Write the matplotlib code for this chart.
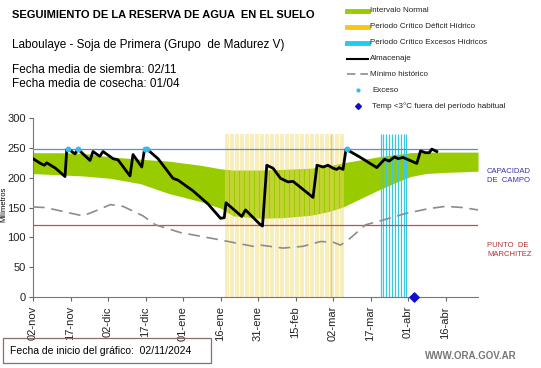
import numpy as np
import matplotlib
matplotlib.use("Agg")
import matplotlib.pyplot as plt

plt.rcParams['font.family'] = ['Liberation Sans', 'DejaVu Sans']

# dias contados desde el 02/11/2024
tick_days = [0, 15, 30, 45, 60, 75, 90, 105, 120, 135, 150, 165]
tick_labels = ['02-nov', '17-nov', '02-dic', '17-dic', '01-ene', '16-ene',
               '31-ene', '15-feb', '02-mar', '17-mar', '01-abr', '16-abr']

# intervalo normal (banda verde)
band_days = [0, 10, 20, 31, 43, 54, 67, 75, 80, 91, 100, 111, 118, 124, 131,
             138, 145, 151, 157, 165, 172, 178]
band_upper = [242, 242, 241, 235, 231, 228, 221, 215, 213, 213, 214, 216, 220,
              225, 230, 235, 239, 242, 243, 243, 243, 243]
band_lower = [207, 205, 203, 199, 190, 174, 160, 149, 136, 132, 133, 137, 143,
              151, 165, 179, 192, 202, 207, 209, 210, 211]

# minimo historico
min_days = [0, 5, 20, 26, 31, 36, 44, 49, 59, 72, 88, 91, 100, 108, 115, 120,
            123, 127, 133, 140, 149, 158, 165, 172, 178]
min_vals = [151, 150, 136, 146, 155, 152, 136, 121, 108, 98, 85, 87, 82, 85,
            93, 92, 87, 99, 121, 129, 140, 148, 152, 150, 146]

# almacenaje
alm_days = [0, 3, 4.5, 5.5, 9, 12.8, 13.5, 14.5, 16.8, 18, 22.8, 24, 26.7, 28,
            32, 34, 38.8, 40, 43.5, 44.6, 45.6, 50, 56, 58, 64, 70, 75, 76.5,
            77.2, 83.5, 85, 91, 91.8, 93.5, 96, 99, 102, 104, 112, 113.6, 116,
            118, 120, 121.5, 122.5, 124, 125.2, 131, 137.5, 140.6, 142.5,
            144.6, 146, 148, 153.5, 155, 157, 158.5, 159.5, 161.5]
alm_vals = [232, 224, 221, 225, 216, 202, 247, 247, 240, 248, 229, 244, 236,
            244, 232, 230, 203, 239, 218, 248, 248, 232, 199, 196, 178, 156,
            132, 133, 158, 135, 146, 121, 119, 221, 216, 199, 193, 194, 167,
            221, 218, 221, 216, 214, 217, 214, 248, 234, 217, 231, 228, 235,
            232, 234, 224, 245, 242, 242, 248, 244]

exceso_days = [14, 18, 44.6, 45.6, 125.4]
exceso_vals = [248, 248, 248, 248, 248]
helada_days = [152.4]

deficit_period = (77, 124)
excesos_period = (139, 149.5)

capacidad_campo = 248
punto_marchitez = 121

fig = plt.figure(figsize=(5.41, 3.68), dpi=100)
ax = fig.add_axes([0.061, 0.193, 0.8226, 0.486])

ax.fill_between(band_days, band_lower, band_upper, color='#99cc00', lw=0, zorder=1)

# periodos criticos (rayado vertical)
ax.vlines(np.arange(deficit_period[0], deficit_period[1] + 1, 1.0), 0, 273,
          color='#f0dc70', lw=1.1, alpha=0.6, zorder=2)
ax.vlines([119], 0, 273, color='#e6c84a', lw=1.0, alpha=0.8, zorder=2)
ax.vlines(np.arange(excesos_period[0], excesos_period[1] + 0.1, 1.15), 0, 273,
          color='#3cc8dc', lw=0.9, zorder=2)

ax.axhline(capacidad_campo, color='#5b8fd0', lw=0.9, zorder=3)
ax.axhline(punto_marchitez, color='#c0504d', lw=0.9, zorder=3)

ax.plot(min_days, min_vals, color='#8c8c8c', lw=1.2, dashes=(7, 4), zorder=3)
ax.plot(alm_days, alm_vals, color='black', lw=2.0, zorder=4)
ax.scatter(exceso_days, exceso_vals, s=10, color='#33bbee', zorder=5)
ax.scatter(helada_days, [0], marker='D', s=22, color='#1010cc', zorder=6, clip_on=False)

ax.set_xlim(0, 178)
ax.set_ylim(0, 300)
ax.set_yticks(range(0, 301, 50))
ax.set_xticks(tick_days)
ax.set_xticklabels(tick_labels, rotation=90, fontsize=8, color='#222222')
ax.tick_params(axis='y', labelsize=8, length=3, pad=2, color='#666666', colors='#222222')
ax.tick_params(axis='x', length=3, color='#666666')
for s in ['top', 'right']:
    ax.spines[s].set_visible(False)
for s in ['left', 'bottom']:
    ax.spines[s].set_color('#777777')
ax.set_ylabel('Milímetros', fontsize=5.5)
ax.yaxis.set_label_coords(-0.057, 0.52)

# textos
fig.text(12 / 541, 1 - 15 / 368, 'SEGUIMIENTO DE LA RESERVA DE AGUA  EN EL SUELO',
         fontsize=8, fontweight='bold', va='center')
fig.text(12 / 541, 1 - 45 / 368, 'Laboulaye - Soja de Primera (Grupo  de Madurez V)',
         fontsize=8.5, va='center')
fig.text(12 / 541, 1 - 70 / 368, 'Fecha media de siembra: 02/11',
         fontsize=8.5, va='center')
fig.text(12 / 541, 1 - 84 / 368, 'Fecha media de cosecha: 01/04',
         fontsize=8.5, va='center')

fig.text(487 / 541, 1 - 176 / 368, 'CAPACIDAD\nDE  CAMPO', fontsize=5.5,
         color='#3333aa', va='center', linespacing=1.4)
fig.text(487 / 541, 1 - 250 / 368, 'PUNTO  DE\nMARCHITEZ', fontsize=5.5,
         color='#b03030', va='center', linespacing=1.4)

# leyenda
leg_items = ['Intervalo Normal', 'Periodo Crítico Déficit Hídrico',
             'Periodo Crítico Excesos Hídricos', 'Almacenaje', 'Mínimo histórico',
             'Exceso', 'Temp <3°C fuera del período habitual']
leg_y = [11, 27, 43, 59, 74, 90, 106]
for i, (lab, yy) in enumerate(zip(leg_items, leg_y)):
    yf = 1 - yy / 368
    x0, x1 = 347 / 541, 368 / 541
    if i == 0:
        fig.add_artist(plt.Line2D([x0, x1], [yf, yf], color='#99cc00', lw=3.5))
    elif i == 1:
        fig.add_artist(plt.Line2D([x0, x1], [yf, yf], color='#f5c518', lw=3.5))
    elif i == 2:
        fig.add_artist(plt.Line2D([x0, x1], [yf, yf], color='#22ccee', lw=3.5))
    elif i == 3:
        fig.add_artist(plt.Line2D([x0, x1], [yf, yf], color='black', lw=1.5))
    elif i == 4:
        fig.add_artist(plt.Line2D([x0, x1], [yf, yf], color='#8c8c8c', lw=1.2, dashes=(5, 3)))
    elif i == 5:
        fig.add_artist(plt.Line2D([358 / 541], [yf], marker='o', ms=2, color='#33bbee', lw=0))
    else:
        fig.add_artist(plt.Line2D([358 / 541], [yf], marker='D', ms=3, color='#1010cc', lw=0))
    tx = 370 / 541 if i < 5 else 372 / 541
    fig.text(tx, yf, lab, fontsize=5.8, va='center', color='#222222')

# caja inferior
fig.add_artist(plt.Rectangle((3 / 541, 1 - 363 / 368), 208 / 541, 25 / 368,
                             fill=False, ec='#8a6d6d', lw=0.9))
fig.text(10 / 541, 1 - 351 / 368, 'Fecha de inicio del gráfico:  02/11/2024',
         fontsize=7.5, va='center')
fig.text(517 / 541, 1 - 356 / 368, 'WWW.ORA.GOV.AR', fontsize=7, va='center', ha='right',
         color='#777777', fontweight='bold')

fig.savefig('out.png', dpi=100)
